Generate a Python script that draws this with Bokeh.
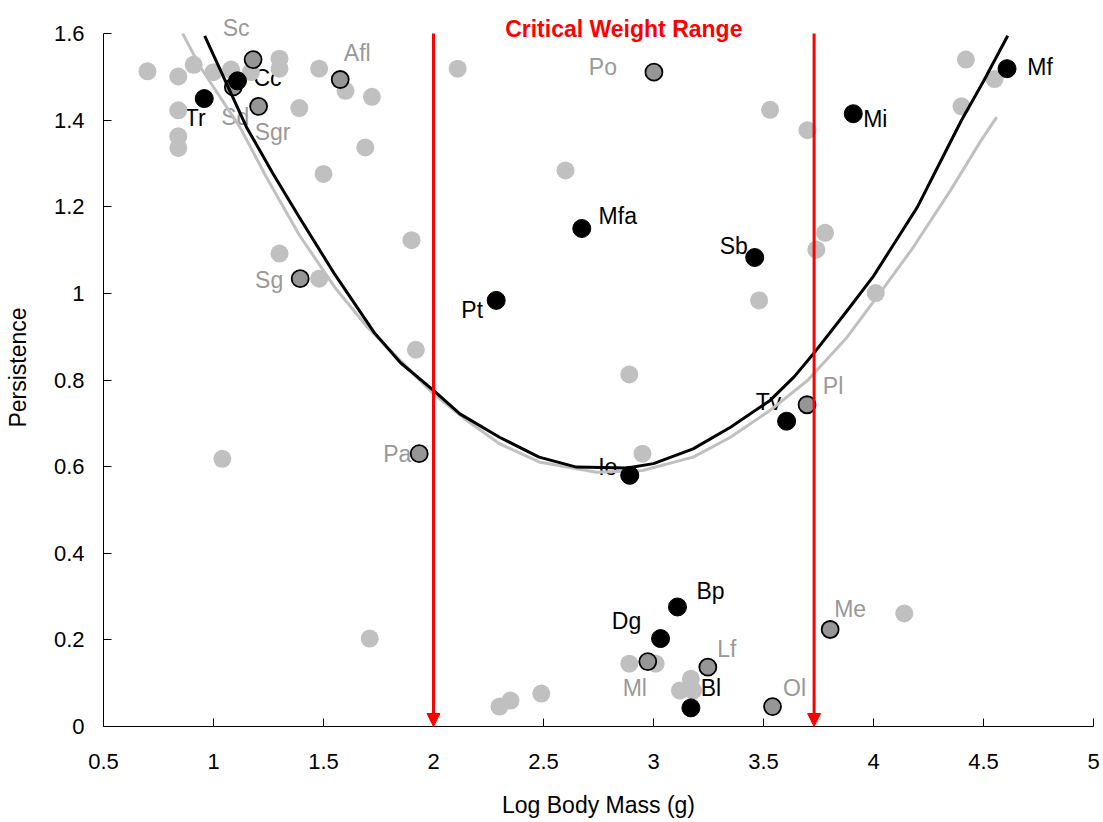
from bokeh.plotting import figure
from bokeh.models import (ColumnDataSource, LabelSet, Label, Arrow, NormalHead,
                          FixedTicker, Range1d)
from bokeh.core.properties import value
from bokeh.embed import file_html
from bokeh.resources import INLINE

# ---------------- data ----------------
x_ticks = [0.5, 1, 1.5, 2, 2.5, 3, 3.5, 4, 4.5, 5]
x_tick_labels = ["0.5", "1", "1.5", "2", "2.5", "3", "3.5", "4", "4.5", "5"]
y_ticks = [0, 0.2, 0.4, 0.6, 0.8, 1.0, 1.2, 1.4, 1.6]
y_tick_labels = ["0", "0.2", "0.4", "0.6", "0.8", "1", "1.2", "1.4", "1.6"]

# unlabelled species (light grey)
other_mass = [0.70, 0.84, 0.91, 1.00, 1.08, 1.17, 1.30, 1.30, 1.48, 1.60, 1.72,
              0.84, 0.84, 0.84, 1.39, 1.69, 1.50, 2.11, 1.90, 1.30, 1.48, 1.92,
              1.04, 1.71, 2.60, 2.89, 3.53, 3.70, 4.42, 4.40, 4.55, 3.78, 3.74,
              3.48, 4.01, 2.95, 4.14, 2.30, 2.35, 2.49, 2.89, 3.01, 3.17, 3.12,
              3.18]
other_pers = [1.513, 1.501, 1.528, 1.511, 1.517, 1.511, 1.542, 1.519, 1.519,
              1.468, 1.454, 1.423, 1.363, 1.336, 1.428, 1.337, 1.276, 1.519,
              1.123, 1.092, 1.034, 0.870, 0.618, 0.203, 1.284, 0.813, 1.424,
              1.377, 1.540, 1.432, 1.495, 1.140, 1.101, 0.984, 1.001, 0.630,
              0.261, 0.046, 0.060, 0.076, 0.145, 0.145, 0.110, 0.083, 0.083]

# labelled species, grey with outline
grey_names = ["Sc", "Sd", "Sgr", "Afl", "Sg", "Pa", "Po", "Pl", "Ml", "Lf", "Ol", "Me"]
grey_mass = [1.18, 1.09, 1.205, 1.576, 1.394, 1.935, 3.002, 3.698, 2.974, 3.247, 3.541, 3.803]
grey_pers = [1.540, 1.477, 1.432, 1.494, 1.034, 0.630, 1.511, 0.743, 0.150, 0.137, 0.046, 0.224]

# labelled species, black
black_names = ["Tr", "Cc", "Mfa", "Sb", "Pt", "Tv", "Io", "Mi", "Mf", "Bp", "Dg", "Bl"]
black_mass = [0.958, 1.109, 2.674, 3.460, 2.285, 3.605, 2.892, 3.908, 4.607, 3.109, 3.032, 3.170]
black_pers = [1.450, 1.491, 1.150, 1.083, 0.984, 0.705, 0.580, 1.415, 1.519, 0.276, 0.203, 0.043]

# fitted curves
fit_black_x = [0.96, 1.05, 1.15, 1.27, 1.39, 1.55, 1.73, 1.85, 2.0, 2.12, 2.30,
               2.48, 2.65, 2.88, 3.0, 3.18, 3.35, 3.53, 3.64, 3.74, 3.88, 4.0,
               4.1, 4.2, 4.3, 4.4, 4.5, 4.61]
fit_black_y = [1.595, 1.495, 1.384, 1.277, 1.176, 1.045, 0.910, 0.840, 0.776,
               0.722, 0.668, 0.622, 0.599, 0.597, 0.607, 0.641, 0.691, 0.753,
               0.808, 0.869, 0.960, 1.040, 1.120, 1.200, 1.300, 1.400, 1.490,
               1.595]
fit_grey_x = [0.86, 0.94, 1.12, 1.24, 1.39, 1.55, 1.70, 1.85, 2.0, 2.15, 2.30,
              2.48, 2.74, 2.95, 3.18, 3.35, 3.53, 3.70, 3.88, 4.05, 4.18, 4.35,
              4.49, 4.56]
fit_grey_y = [1.600, 1.523, 1.384, 1.269, 1.135, 1.015, 0.922, 0.845, 0.768,
              0.707, 0.653, 0.611, 0.587, 0.591, 0.622, 0.668, 0.730, 0.799,
              0.899, 1.015, 1.106, 1.238, 1.354, 1.407]

critical_range = [2.0, 3.73]
title_text = "Critical Weight Range"

# label placement (screen px: right, down) -- styling
grey_dx = [-17, 2, 14, 17, -31, -22, -51, 26, -13, 19, 22, 20]
grey_dy = [-32, 30, 26, -27, 1, 0, -5, -19, 26, -18, -19, -20]
black_dx = [-9, 30, 36, -21, -24, -18, -22, 22, 33, 33, -34, 20]
black_dy = [19, -3, -12, -12, 10, -19, -8, 5, -2, -16, -18, -20]

FONT = "Liberation Sans"

# frame: x 103..1093 (220 px / unit), y 8..726 (433 px / unit), axis to 1.6
p = figure(width=1100, height=820, output_backend="svg", toolbar_location=None,
           x_range=Range1d(0.5, 5), y_range=Range1d(0, 1.658),
           min_border_left=103, min_border_right=7, min_border_top=8,
           min_border_bottom=94)
p.outline_line_color = None
p.xgrid.grid_line_color = None
p.ygrid.grid_line_color = None
p.background_fill_color = "white"

for ax, ticks, labels in ((p.xaxis[0], x_ticks, x_tick_labels),
                          (p.yaxis[0], y_ticks, y_tick_labels)):
    ax.ticker = FixedTicker(ticks=ticks)
    ax.major_label_overrides = {t: l for t, l in zip(ticks, labels)}
    ax.major_tick_in = 8
    ax.major_tick_out = 0
    ax.minor_tick_line_color = None
    ax.axis_line_color = "black"
    ax.major_tick_line_color = "black"
    ax.major_label_text_font = FONT
    ax.major_label_text_font_size = "22px"
    ax.major_label_text_color = "black"
    ax.axis_label_text_font = FONT
    ax.axis_label_text_font_size = "23px"
    ax.axis_label_text_font_style = "normal"
    ax.axis_label_text_color = "black"

p.yaxis.bounds = (y_ticks[0], y_ticks[-1])
p.xaxis.axis_label = "Log Body Mass (g)"
p.yaxis.axis_label = "Persistence"
p.xaxis.major_label_standoff = 27
p.xaxis.axis_label_standoff = 20
p.yaxis.major_label_standoff = 19
p.yaxis.axis_label_standoff = 20

# labels (beneath marks)
grey_src = ColumnDataSource(dict(x=grey_mass, y=grey_pers, name=grey_names,
                                 dx=grey_dx, dy=[-d for d in grey_dy]))
black_src = ColumnDataSource(dict(x=black_mass, y=black_pers, name=black_names,
                                  dx=black_dx, dy=[-d for d in black_dy]))
for src, col in ((grey_src, "#999999"), (black_src, "black")):
    p.add_layout(LabelSet(x="x", y="y", text="name", source=src,
                          x_offset="dx", y_offset="dy",
                          text_align="center", text_baseline="middle",
                          text_font=value(FONT), text_font_size=value("23px"),
                          text_color=col, level="underlay"))

p.scatter(other_mass, other_pers, size=18, fill_color="#C0C0C0",
          line_color=None)
p.scatter("x", "y", source=grey_src, size=17, fill_color="#969696",
          line_color="black", line_width=1.8)
p.line(fit_grey_x, fit_grey_y, line_color="#C0C0C0", line_width=3)
p.line(fit_black_x, fit_black_y, line_color="black", line_width=3)
p.scatter("x", "y", source=black_src, size=18, fill_color="black",
          line_color="black")

for xc in critical_range:
    p.add_layout(Arrow(x_start=xc, y_start=y_ticks[-1], x_end=xc, y_end=0,
                       line_color="red", line_width=3,
                       end=NormalHead(size=13, fill_color="red",
                                      line_color="red", line_width=1)))

p.add_layout(Label(x=sum(critical_range) / 2, y=y_ticks[-1], y_offset=5,
                   text=title_text, text_align="center",
                   text_baseline="middle", text_font=FONT,
                   text_font_size="23px", text_font_style="bold",
                   text_color="red"))

open("out.html", "w").write(file_html(p, INLINE))
